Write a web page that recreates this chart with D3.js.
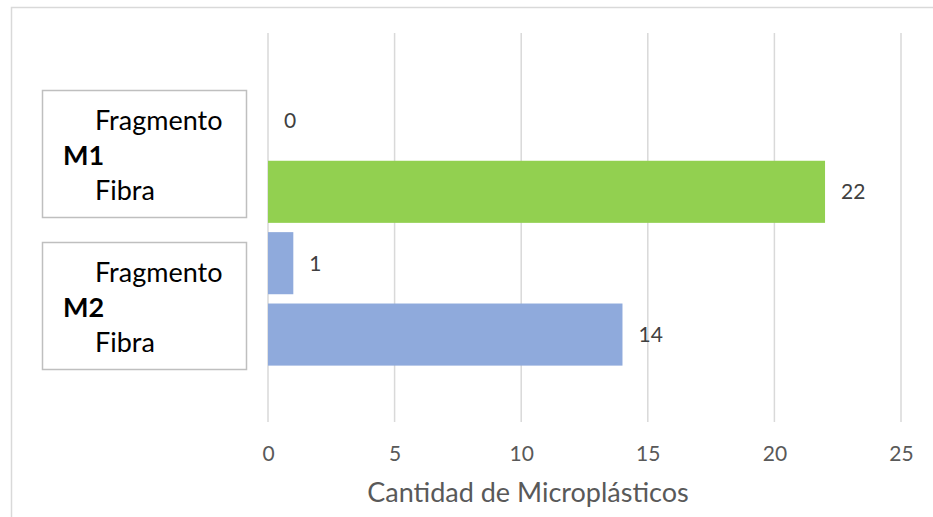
<!DOCTYPE html>
<html>
<head>
<meta charset="utf-8">
<script src="https://cdn.jsdelivr.net/npm/d3@7"></script>
<style>
  html, body { margin: 0; padding: 0; background: #fff; }
  svg { display: block; font-family: Lato, "Open Sans", sans-serif; }
</style>
</head>
<body>
<svg id="chart" width="933" height="517"></svg>
<script>
// Muestras (grupos) y tipos de microplástico
const groups = ["M1", "M2"];
const types = ["Fragmento", "Fibra"];
// Cantidad de microplásticos por muestra, en el orden de `types`
const valuesM1 = [0, 22];
const valuesM2 = [1, 14];
const xTicks = [0, 5, 10, 15, 20, 25];
const axisTitle = "Cantidad de Microplásticos";
const groupColors = ["#92d050", "#8faadc"];

const rows = [];
[valuesM1, valuesM2].forEach((vals, gi) => {
  vals.forEach((v, ti) => rows.push({ group: groups[gi], gi, type: types[ti], key: groups[gi] + " " + types[ti], value: v }));
});

const svg = d3.select("#chart");
const W = 933, H = 517;

// Chart frame
svg.append("rect").attr("x", 0).attr("y", 0).attr("width", W).attr("height", H).attr("fill", "#fff");
svg.append("rect")
  .attr("x", 11.5).attr("y", 7.5).attr("width", W + 20).attr("height", H + 20)
  .attr("fill", "none").attr("stroke", "#d9d9d9").attr("stroke-width", 1.5);

const plot = { left: 268, right: 901, top: 33, bottom: 422 };

const x = d3.scaleLinear().domain([0, 25]).range([plot.left, plot.right]);
const y = d3.scaleBand()
  .domain(rows.map(d => d.key))
  .range([plot.top, plot.bottom])
  .paddingInner(0.13)
  .paddingOuter(0.79);

// Vertical gridlines
svg.append("g").selectAll("line").data(xTicks).join("line")
  .attr("x1", d => x(d)).attr("x2", d => x(d))
  .attr("y1", plot.top).attr("y2", plot.bottom)
  .attr("stroke", "#d9d9d9").attr("stroke-width", 1.5);

// Bottom axis labels (no domain line, no tick marks)
const xAxis = d3.axisBottom(x).tickValues(xTicks).tickSize(0).tickPadding(0);
const gx = svg.append("g").attr("transform", `translate(0, 446)`).call(xAxis);
gx.select(".domain").remove();
gx.selectAll("text")
  .attr("font-family", "Lato, 'Open Sans', sans-serif")
  .attr("font-size", 21).attr("fill", "#595959").attr("dy", "0.71em");

// Bars
svg.append("g").selectAll("rect").data(rows.filter(d => d.value > 0)).join("rect")
  .attr("x", x(0))
  .attr("y", d => y(d.key))
  .attr("width", d => x(d.value) - x(0))
  .attr("height", y.bandwidth())
  .attr("fill", d => groupColors[d.gi]);

// Value labels
svg.append("g").selectAll("text").data(rows).join("text")
  .attr("x", d => x(d.value) + 16)
  .attr("y", d => y(d.key) + y.bandwidth() / 2)
  .attr("dy", "0.36em")
  .attr("font-size", 21).attr("fill", "#404040")
  .text(d => d.value);

// Multi-level category labels, one boxed block per sample
const boxLeft = 42.5, boxWidth = 204;
const boxHeight = 127;
const boxShift = [-3, 7];
groups.forEach((g, gi) => {
  const sub = rows.filter(d => d.gi === gi);
  const first = y(sub[0].key) + y.bandwidth() / 2;
  const last = y(sub[sub.length - 1].key) + y.bandwidth() / 2;
  const mid = (first + last) / 2 + boxShift[gi];
  const top = Math.round(mid - boxHeight / 2) + 0.5;
  const blk = svg.append("g");
  blk.append("rect")
    .attr("x", boxLeft).attr("y", top).attr("width", boxWidth).attr("height", boxHeight)
    .attr("fill", "#fff").attr("stroke", "#bfbfbf").attr("stroke-width", 1.5);
  blk.append("text").attr("x", 95).attr("y", top + 39)
    .attr("font-size", 27).attr("fill", "#000").text(sub[0].type);
  blk.append("text").attr("x", 63).attr("y", top + 74)
    .attr("font-size", 27).attr("font-weight", "bold").attr("fill", "#000").text(g);
  blk.append("text").attr("x", 95).attr("y", top + 109)
    .attr("font-size", 27).attr("fill", "#000").text(sub[1].type);
});

// Axis title
svg.append("text")
  .attr("x", 528).attr("y", 502)
  .attr("text-anchor", "middle")
  .attr("font-size", 27).attr("fill", "#595959")
  .text(axisTitle);
</script>
</body>
</html>
